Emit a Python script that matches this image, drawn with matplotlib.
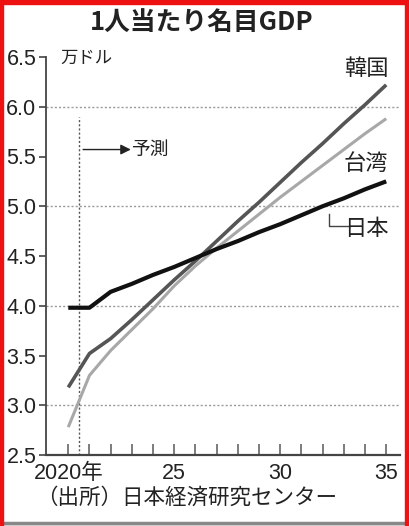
import matplotlib
matplotlib.use("Agg")
import matplotlib.pyplot as plt
from matplotlib.patches import Rectangle
from matplotlib import font_manager

years = list(range(2020, 2036))
japan = [3.98, 3.98, 4.14, 4.22, 4.31, 4.39, 4.48, 4.57, 4.65, 4.74, 4.82, 4.91, 5.00, 5.08, 5.17, 5.25]
korea = [3.18, 3.52, 3.67, 3.86, 4.06, 4.26, 4.45, 4.65, 4.85, 5.04, 5.24, 5.44, 5.63, 5.83, 6.02, 6.22]
taiwan = [2.78, 3.30, 3.55, 3.76, 3.97, 4.20, 4.40, 4.58, 4.75, 4.92, 5.09, 5.25, 5.41, 5.57, 5.73, 5.88]
yticks = [2.5, 3.0, 3.5, 4.0, 4.5, 5.0, 5.5, 6.0, 6.5]
ytick_labels = ["2.5", "3.0", "3.5", "4.0", "4.5", "5.0", "5.5", "6.0", "6.5"]
grid_values = [3.0, 4.0, 5.0, 6.0]
xtick_pos = [2020, 2025, 2030, 2035]
xtick_labels = ["2020年", "25", "30", "35"]
title = "1人当たり名目GDP"
unit = "万ドル"
source = "（出所）日本経済研究センター"

available = {f.name for f in font_manager.fontManager.ttflist}
NUM = ["Liberation Sans Narrow", "Noto Sans CJK JP"] if "Liberation Sans Narrow" in available else ["Liberation Sans", "Noto Sans CJK JP"]
JP = ["Noto Sans CJK JP", "DejaVu Sans"]
plt.rcParams['font.family'] = JP

W, H = 409, 526
fig = plt.figure(figsize=(W / 100, H / 100), dpi=100)

def fx(px):
    return px / W

def fy(py):
    return 1 - py / H

ax = fig.add_axes([fx(46), fy(455), fx(400) - fx(46), fy(57) - fy(455)])
ax.set_xlim(2018.95, 2035.65)
ax.set_ylim(2.5, 6.5)

for g in grid_values:
    ax.axhline(g, color="#9a9a9a", lw=1.0, ls=(0, (1.5, 1.5)), zorder=1)

ax.plot([2020.5, 2020.5], [2.5, 5.9], color="#555555", lw=1.0, ls=(0, (1.5, 1.5)), zorder=1)

ax.plot(years, taiwan, color="#a8a8a8", lw=2.2, zorder=3, solid_capstyle="butt")
ax.plot(years, korea, color="#555555", lw=2.6, zorder=4, solid_capstyle="butt")
ax.plot(years, japan, color="#111111", lw=3.0, zorder=5, solid_capstyle="butt")

for s in ["top", "right"]:
    ax.spines[s].set_visible(False)
ax.spines["left"].set_color("#444444")
ax.spines["left"].set_linewidth(1.3)
ax.spines["bottom"].set_color("#444444")
ax.spines["bottom"].set_linewidth(1.6)

ax.set_yticks(yticks)
ax.set_yticklabels(ytick_labels, family=NUM, fontsize=15.5, color="#222222")
ax.tick_params(axis="y", direction="out", length=5, width=1.2, color="#444444", pad=2)

ax.set_xticks(years, minor=True)
ax.set_xticks(xtick_pos)
ax.set_xticklabels(xtick_labels, family=NUM, fontsize=15.5, color="#222222")
ax.tick_params(axis="x", which="both", direction="in", length=8, width=1.2, color="#666666", pad=6)

# forecast annotation
ax.annotate("", xy=(2022.95, 5.57), xytext=(2020.7, 5.57),
            arrowprops=dict(arrowstyle="-|>", color="#222222", lw=1.0, mutation_scale=15, shrinkA=0, shrinkB=0))
ax.text(2022.95, 5.57, "予測", fontsize=13.5, va="center", ha="left", color="#222222")

# series labels
ax.text(2035.1, 6.38, "韓国", fontsize=16, ha="right", va="center", color="#222222")
ax.text(2035.1, 5.43, "台湾", fontsize=16, ha="right", va="center", color="#222222")
ax.text(2035.1, 4.78, "日本", fontsize=16, ha="right", va="center", color="#222222")
ax.plot([2032.3, 2032.3, 2033.3], [4.92, 4.80, 4.80], color="#444444", lw=1.0)

# title, unit, source
fig.text(fx(202), fy(22), title, fontsize=18.5, fontweight="bold", ha="center", va="center", color="#222222")
fig.text(fx(60), fy(58), unit, fontsize=12.5, ha="left", va="center", color="#222222")
fig.text(fx(36), fy(498), source, fontsize=15.5, ha="left", va="center", color="#222222")

# frame
fig.patches.append(Rectangle((0, 0), fx(2.5), 1, transform=fig.transFigure, color="#ee1111", zorder=10))
fig.patches.append(Rectangle((0, fy(4)), 1, 1 - fy(4), transform=fig.transFigure, color="#ee1111", zorder=10))
fig.patches.append(Rectangle((fx(405), 0), 1 - fx(405), 1, transform=fig.transFigure, color="#ee1111", zorder=10))
fig.patches.append(Rectangle((fx(2.5), 0), fx(405) - fx(2.5), fy(522), transform=fig.transFigure, color="#dddddd", zorder=9))
fig.patches.append(Rectangle((fx(2.5), fy(523.5)), fx(405) - fx(2.5), fy(522) - fy(523.5), transform=fig.transFigure, color="#888888", zorder=9))

fig.savefig("out.png", dpi=100)
